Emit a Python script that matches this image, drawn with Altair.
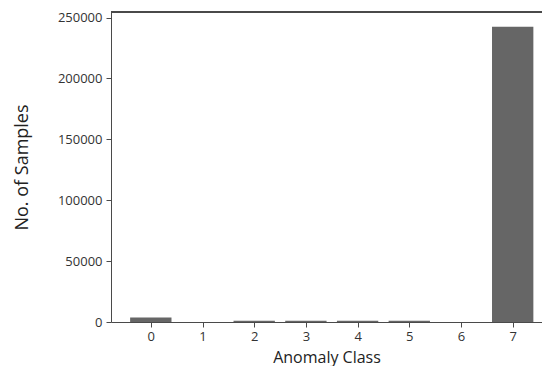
import altair as alt
import pandas as pd

classes = [0, 1, 2, 3, 4, 5, 6, 7]
samples = [3700, 100, 1100, 1100, 1100, 1100, 100, 242400]
y_ticks = [0, 50000, 100000, 150000, 200000, 250000]
y_max = 254600

df = pd.DataFrame({"cls": classes, "n": samples})
df["x0"] = df["cls"] - 0.4
df["x1"] = df["cls"] + 0.4

font = "Open Sans"
line = "#4a4a4a"

base = alt.Chart(df)

bars = base.mark_rect(color="#666666").encode(
    x=alt.X("x0:Q", scale=alt.Scale(domain=[-0.77, 7.567], nice=False, zero=False),
            axis=alt.Axis(values=classes, format="d", title="Anomaly Class",
                          grid=False, domain=True, titleFontSize=16, labelFontSize=13,
                          titlePadding=6, labelPadding=3, tickSize=5,
                          titleFont=font, labelFont=font, titleFontWeight="normal",
                          titleColor="#222", labelColor="#333",
                          domainColor=line, tickColor=line)),
    x2="x1:Q",
    y=alt.Y("n:Q", scale=alt.Scale(domain=[0, y_max], nice=False),
            axis=alt.Axis(values=y_ticks, format="d",
                          title="No. of Samples", grid=False, titleFontSize=18,
                          labelFontSize=13, titlePadding=26, labelPadding=4, tickSize=5,
                          titleFont=font, labelFont=font, titleFontWeight="normal",
                          titleColor="#222", labelColor="#333",
                          domainColor=line, tickColor=line)),
    y2=alt.datum(0),
)

top = base.mark_rule(color=line, strokeWidth=1).encode(y=alt.datum(y_max))

chart = alt.layer(bars, top).properties(
    width=431, height=310,
    autosize=alt.AutoSizeParams(type="none"),
    padding={"left": 103, "top": 4, "right": 0, "bottom": 44},
).configure_view(stroke=None)

chart.save("out.html", embed_options={"renderer": "svg", "actions": False})
